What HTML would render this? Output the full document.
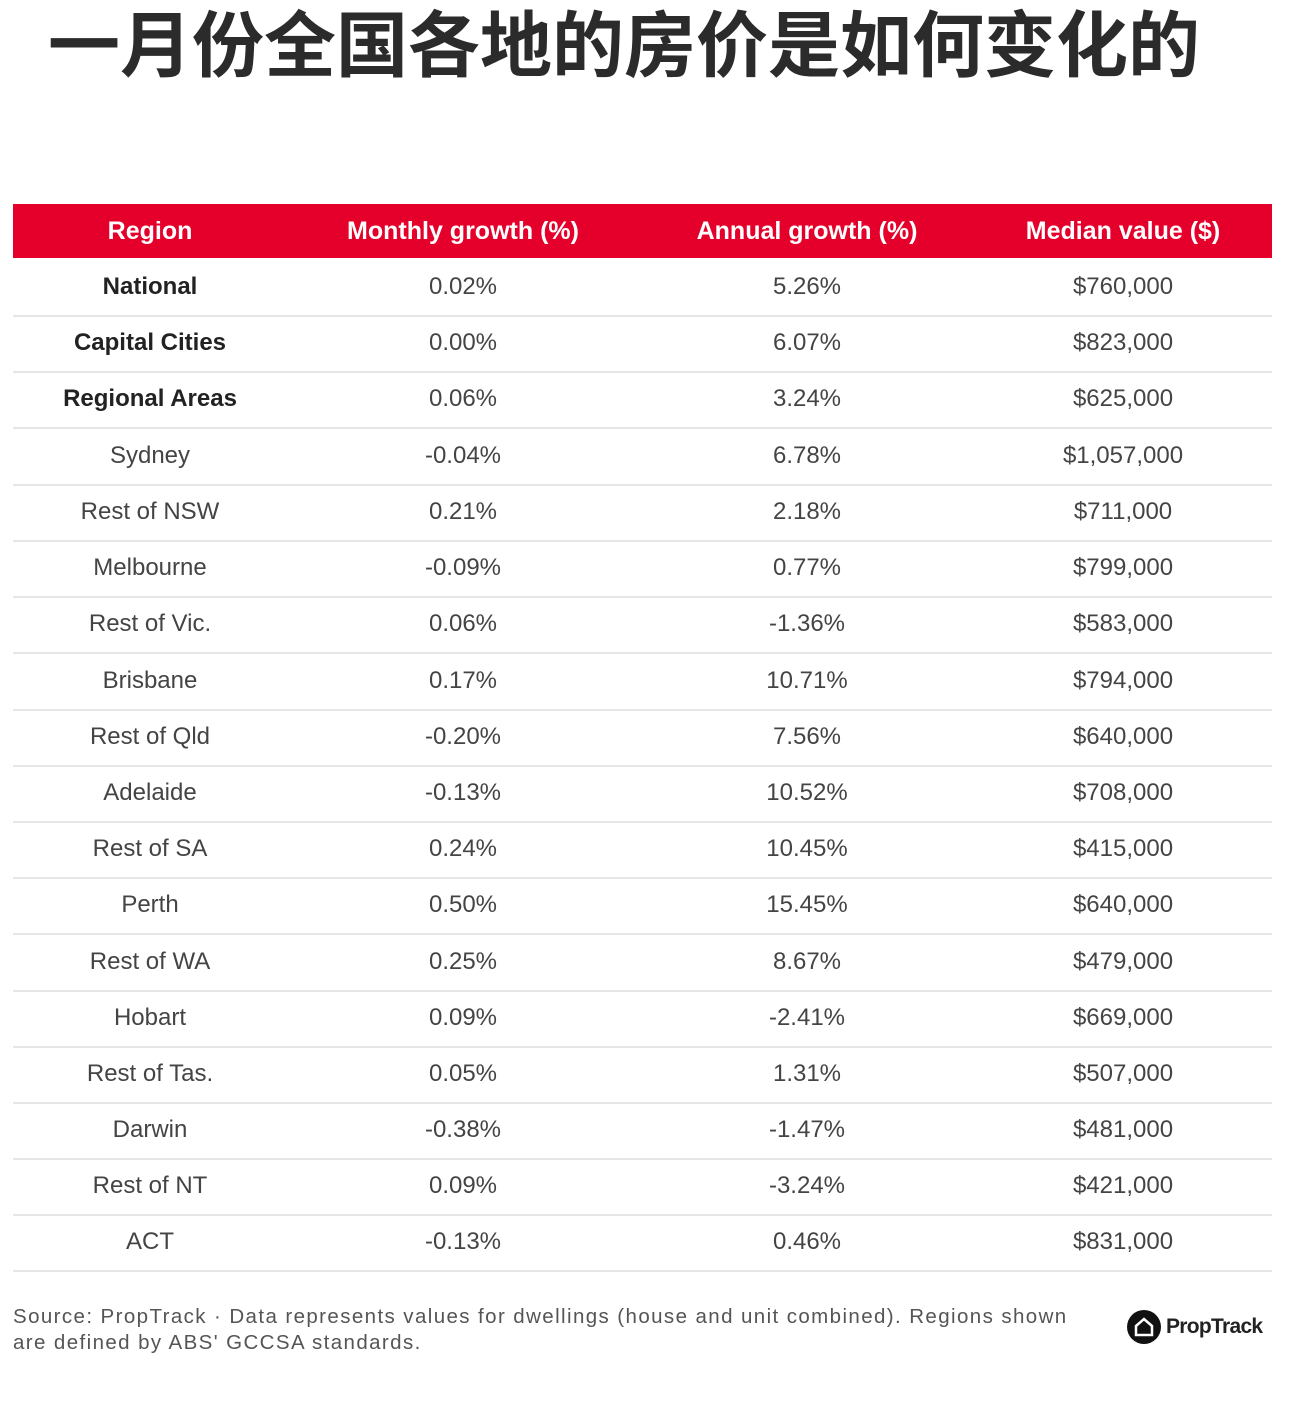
<!DOCTYPE html>
<html><head><meta charset="utf-8"><style>
body{margin:0;width:1290px;height:1416px;background:#fff;position:relative;overflow:hidden;font-family:"Liberation Sans","Noto Sans CJK SC",sans-serif}
.t{position:absolute;left:48px;top:-13px;font-size:72px;font-weight:bold;color:#2b2b2b;font-family:"Noto Sans CJK SC",sans-serif;letter-spacing:0px;white-space:nowrap}
.hd{position:absolute;left:13px;top:204px;width:1259px;height:54px;background:#e4002b}
.r{position:absolute;left:13px;width:1259px;height:56px;border-bottom:2px solid #e6e6e6}
.c{position:absolute;top:0;height:56px;line-height:56px;text-align:center;font-size:24px;color:#444;white-space:nowrap}
.hd .c{line-height:54px;height:54px;color:#fff;font-weight:bold;font-size:25px}
.c1{left:0;width:274px}.c2{left:300px;width:300px}.c3{left:644px;width:300px}.c4{left:960px;width:300px}
.b{font-weight:bold;color:#222}
.src{position:absolute;left:13px;top:1304px;font-size:20.5px;color:#555;line-height:26px;width:1100px;letter-spacing:1.4px;white-space:nowrap}
.logo{position:absolute;left:1127px;top:1310px;display:flex;align-items:center;font-weight:bold;font-size:21px;color:#222;letter-spacing:-0.7px}
.logo .i{width:34px;height:34px;border-radius:50%;background:#111;margin-right:5px;position:relative}
</style></head><body>
<div class="t">一月份全国各地的房价是如何变化的</div>
<div class="hd"><div class="c c1">Region</div><div class="c c2">Monthly growth (%)</div><div class="c c3">Annual growth (%)</div><div class="c c4">Median value ($)</div></div>
<div class="r" style="top:259px"><div class="c c1 b">National</div><div class="c c2">0.02%</div><div class="c c3">5.26%</div><div class="c c4">$760,000</div></div>
<div class="r" style="top:315px"><div class="c c1 b">Capital Cities</div><div class="c c2">0.00%</div><div class="c c3">6.07%</div><div class="c c4">$823,000</div></div>
<div class="r" style="top:371px"><div class="c c1 b">Regional Areas</div><div class="c c2">0.06%</div><div class="c c3">3.24%</div><div class="c c4">$625,000</div></div>
<div class="r" style="top:428px"><div class="c c1">Sydney</div><div class="c c2">-0.04%</div><div class="c c3">6.78%</div><div class="c c4">$1,057,000</div></div>
<div class="r" style="top:484px"><div class="c c1">Rest of NSW</div><div class="c c2">0.21%</div><div class="c c3">2.18%</div><div class="c c4">$711,000</div></div>
<div class="r" style="top:540px"><div class="c c1">Melbourne</div><div class="c c2">-0.09%</div><div class="c c3">0.77%</div><div class="c c4">$799,000</div></div>
<div class="r" style="top:596px"><div class="c c1">Rest of Vic.</div><div class="c c2">0.06%</div><div class="c c3">-1.36%</div><div class="c c4">$583,000</div></div>
<div class="r" style="top:653px"><div class="c c1">Brisbane</div><div class="c c2">0.17%</div><div class="c c3">10.71%</div><div class="c c4">$794,000</div></div>
<div class="r" style="top:709px"><div class="c c1">Rest of Qld</div><div class="c c2">-0.20%</div><div class="c c3">7.56%</div><div class="c c4">$640,000</div></div>
<div class="r" style="top:765px"><div class="c c1">Adelaide</div><div class="c c2">-0.13%</div><div class="c c3">10.52%</div><div class="c c4">$708,000</div></div>
<div class="r" style="top:821px"><div class="c c1">Rest of SA</div><div class="c c2">0.24%</div><div class="c c3">10.45%</div><div class="c c4">$415,000</div></div>
<div class="r" style="top:877px"><div class="c c1">Perth</div><div class="c c2">0.50%</div><div class="c c3">15.45%</div><div class="c c4">$640,000</div></div>
<div class="r" style="top:934px"><div class="c c1">Rest of WA</div><div class="c c2">0.25%</div><div class="c c3">8.67%</div><div class="c c4">$479,000</div></div>
<div class="r" style="top:990px"><div class="c c1">Hobart</div><div class="c c2">0.09%</div><div class="c c3">-2.41%</div><div class="c c4">$669,000</div></div>
<div class="r" style="top:1046px"><div class="c c1">Rest of Tas.</div><div class="c c2">0.05%</div><div class="c c3">1.31%</div><div class="c c4">$507,000</div></div>
<div class="r" style="top:1102px"><div class="c c1">Darwin</div><div class="c c2">-0.38%</div><div class="c c3">-1.47%</div><div class="c c4">$481,000</div></div>
<div class="r" style="top:1158px"><div class="c c1">Rest of NT</div><div class="c c2">0.09%</div><div class="c c3">-3.24%</div><div class="c c4">$421,000</div></div>
<div class="r" style="top:1214px"><div class="c c1">ACT</div><div class="c c2">-0.13%</div><div class="c c3">0.46%</div><div class="c c4">$831,000</div></div>
<div class="src">Source: PropTrack · Data represents values for dwellings (house and unit combined). Regions shown<br>are defined by ABS' GCCSA standards.</div>
<div class="logo"><div class="i"><svg width="34" height="34" viewBox="0 0 34 34"><path d="M9 16 L17 9 L25 16 L25 25 L9 25 Z" fill="none" stroke="#fff" stroke-width="2.5"/></svg></div>PropTrack</div>
</body></html>
